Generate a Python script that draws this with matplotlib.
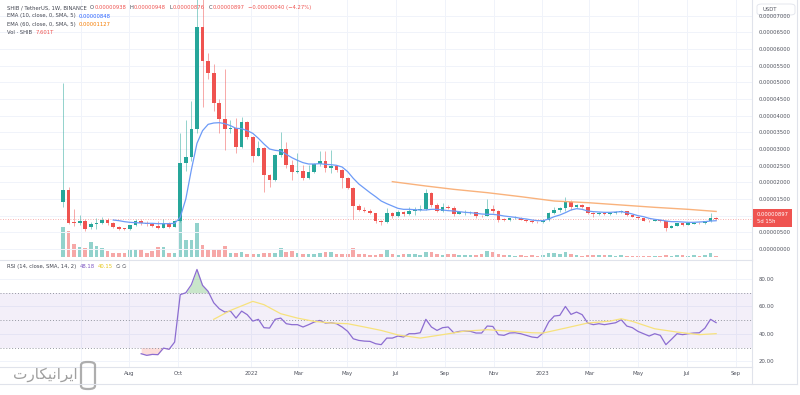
import numpy as np
import pandas as pd
import matplotlib
matplotlib.use("Agg")
import matplotlib.pyplot as plt
import matplotlib.dates as mdates
from matplotlib.lines import Line2D
from matplotlib.patches import FancyBboxPatch

plt.rcParams['font.family'] = ['DejaVu Sans']

# SHIB / USDT weekly candles, prices in micro-USDT (1e-6)
first_week = '2021-05-10'
opens = [14.0, 17.7, 8.2, 7.8, 8.4, 6.5, 7.6, 7.9, 8.7, 7.8,
         6.6, 6.3, 5.9, 7.1, 8.5, 7.9, 7.4, 7.0, 6.4, 7.9,
         6.7, 8.5, 25.9, 27.5, 35.9, 66.7, 56.5, 52.9, 43.7, 38.9,
         35.9, 36.2, 30.5, 38.0, 33.7, 28.0, 30.2, 22.2, 20.7, 28.2,
         29.9, 25.2, 23.2, 23.4, 21.2, 23.0, 25.4, 26.5, 24.2, 25.0,
         23.7, 21.2, 18.2, 12.9, 11.7, 11.4, 10.9, 8.3, 8.0, 10.7,
         9.8, 11.2, 10.6, 11.4, 11.7, 11.9, 16.7, 13.2, 11.5, 12.5,
         12.4, 10.5, 11.0, 11.1, 11.2, 10.0, 9.8, 11.9, 11.4, 8.9,
         8.6, 9.2, 9.4, 8.8, 8.4, 8.1, 8.0, 8.7, 10.7, 11.7,
         12.2, 14.2, 12.5, 13.2, 12.5, 10.9, 10.5, 10.9, 10.5, 10.9,
         11.2, 11.4, 10.1, 9.7, 9.2, 8.5, 8.4, 8.7, 8.4, 6.4,
         7.0, 7.7, 7.3, 7.6, 7.9, 7.7, 8.3, 9.38]
highs = [49.7, 18.5, 11.9, 10.2, 9.0, 8.0, 9.2, 9.5, 9.2, 8.0,
         6.8, 6.4, 7.3, 9.0, 9.0, 8.3, 7.9, 8.3, 9.0, 8.2,
         8.7, 34.8, 38.7, 44.3, 88.8, 76.0, 58.7, 55.5, 44.9, 54.0,
         38.7, 39.4, 39.7, 38.5, 33.9, 32.5, 30.5, 22.5, 28.5, 35.0,
         32.2, 26.7, 28.7, 25.2, 25.2, 25.7, 29.5, 29.5, 29.7, 25.2,
         23.9, 21.7, 18.5, 13.5, 12.5, 11.9, 10.9, 8.6, 12.2, 11.2,
         11.7, 11.4, 12.7, 12.7, 13.2, 17.9, 17.2, 13.7, 13.7, 13.2,
         12.9, 11.3, 11.7, 11.5, 11.2, 10.2, 14.9, 13.2, 11.7, 9.3,
         9.4, 9.9, 9.7, 9.0, 8.6, 8.3, 8.9, 11.2, 12.7, 12.7,
         15.7, 14.7, 13.4, 13.4, 12.7, 11.0, 11.1, 11.1, 11.2, 11.4,
         11.7, 11.5, 10.3, 9.9, 9.3, 8.8, 8.9, 8.8, 8.5, 7.1,
         7.9, 7.9, 8.0, 8.1, 8.0, 8.5, 10.7, 9.48]
lows = [12.5, 7.5, 7.0, 7.2, 5.3, 6.0, 5.9, 7.5, 7.3, 6.2,
        5.8, 5.6, 5.8, 6.9, 7.1, 7.0, 6.6, 5.9, 6.3, 6.2,
        6.6, 8.0, 23.4, 26.5, 34.8, 42.7, 51.1, 41.3, 34.9, 29.7,
        34.7, 28.7, 30.2, 33.0, 26.2, 28.0, 17.2, 18.5, 20.5, 27.7,
        24.2, 20.7, 22.7, 20.7, 21.0, 22.8, 25.0, 23.2, 22.7, 23.2,
        18.2, 18.0, 9.0, 11.5, 11.2, 10.6, 7.8, 7.2, 7.9, 9.3,
        9.7, 9.8, 10.3, 10.3, 11.4, 11.7, 12.7, 11.2, 11.2, 11.9,
        10.0, 10.4, 10.2, 10.5, 9.2, 9.6, 9.8, 10.7, 8.2, 8.3,
        8.3, 8.9, 8.6, 8.1, 7.9, 7.7, 7.8, 8.5, 10.4, 11.2,
        11.5, 11.7, 12.2, 12.2, 10.5, 9.7, 10.3, 10.3, 10.3, 10.6,
        10.9, 9.9, 9.5, 9.0, 8.4, 8.2, 8.3, 8.2, 5.5, 6.2,
        6.9, 6.8, 7.2, 7.4, 7.5, 7.6, 8.2, 8.76]
closes = [17.7, 7.9, 7.8, 8.4, 6.0, 7.6, 7.9, 8.7, 7.8, 6.6,
          6.0, 5.9, 7.1, 8.5, 7.9, 7.4, 7.0, 6.4, 7.9, 6.7,
          8.5, 25.9, 27.5, 35.9, 66.7, 56.5, 52.9, 43.7, 38.9, 35.9,
          36.2, 30.5, 38.0, 33.7, 28.0, 30.2, 22.2, 20.7, 28.2, 29.9,
          25.2, 23.2, 23.4, 21.2, 23.0, 25.4, 26.5, 24.2, 25.0, 23.7,
          21.2, 18.2, 12.9, 11.7, 11.4, 10.9, 8.3, 8.0, 10.7, 9.8,
          11.2, 10.6, 11.4, 11.7, 11.9, 16.7, 13.2, 11.5, 12.5, 12.4,
          10.5, 11.0, 11.1, 11.2, 10.0, 9.8, 11.9, 11.4, 8.7, 8.6,
          9.2, 9.4, 8.8, 8.4, 8.1, 8.0, 8.7, 10.7, 11.7, 12.2,
          14.2, 12.5, 13.2, 12.5, 10.9, 10.5, 10.9, 10.5, 10.9, 11.2,
          11.4, 10.1, 9.7, 9.2, 8.5, 8.4, 8.7, 8.4, 6.2, 7.0,
          7.7, 7.3, 7.8, 7.9, 7.7, 8.4, 9.38, 8.97]
# volume in trillions of SHIB
volumes = [228, 195, 101, 76, 68, 112, 86, 68, 43, 30,
           30, 30, 51, 61, 61, 30, 43, 76, 76, 30,
           30, 271, 127, 127, 258, 91, 61, 61, 61, 86,
           28, 33, 36, 23, 21, 23, 33, 28, 33, 66,
           36, 48, 28, 21, 23, 25, 28, 38, 40, 21,
           23, 23, 71, 21, 23, 15, 17, 23, 51, 21,
           17, 21, 23, 23, 15, 38, 40, 21, 13, 21,
           21, 15, 13, 15, 13, 21, 46, 36, 21, 13,
           13, 10, 13, 8, 13, 8, 13, 33, 34, 23,
           36, 21, 17, 10, 15, 13, 15, 13, 13, 10,
           13, 10, 8, 8, 5, 8, 8, 8, 13, 10,
           15, 13, 10, 15, 10, 15, 33, 7.6]

ema10_start = 9
ema10 = [8.7, 8.5, 8.2, 8.0, 7.9, 7.8, 7.7, 7.7, 7.6, 7.6,
         7.6, 7.7, 9.5, 15.0, 23.8, 31.7, 35.5, 37.4, 37.8, 37.9,
         37.6, 37.0, 36.2, 36.1, 35.5, 34.7, 33.2, 31.5, 30.0, 29.6,
         29.4, 28.4, 27.4, 26.6, 25.9, 25.5, 25.5, 25.6, 25.4, 25.3,
         25.1, 24.6, 23.2, 21.2, 19.5, 18.2, 16.9, 15.7, 14.4, 13.6,
         12.9, 12.2, 11.9, 11.9, 11.8, 11.7, 11.7, 11.9, 11.9, 11.7,
         11.5, 11.4, 11.2, 11.0, 10.9, 10.7, 10.5, 10.4, 10.4, 10.2,
         9.9, 9.7, 9.5, 9.2, 9.0, 8.7, 8.5, 8.5, 9.0, 9.7,
         10.2, 10.9, 11.7, 12.1, 11.9, 11.4, 11.2, 11.1, 11.0, 11.0,
         11.1, 11.2, 10.9, 10.5, 10.0, 9.7, 9.2, 8.9, 8.7, 8.4,
         8.2, 8.2, 8.1, 8.0, 8.0, 8.1, 8.2, 8.4, 8.48]
ema60_weeks = [59, 65, 70, 76, 82, 88, 94, 100, 106, 112, 117]
ema60 = [20.2, 18.9, 17.9, 16.9, 15.7, 14.4, 13.9, 13.2, 12.5, 11.9, 11.27]

rsi_start = 14
rsi = [25.5, 24.3, 25.0, 24.8, 29.6, 28.7, 34.0, 68.6, 70.0, 75.9,
       87.0, 75.4, 71.0, 62.7, 58.3, 55.9, 56.6, 51.5, 56.6, 54.0,
       49.3, 50.6, 44.5, 44.2, 50.6, 51.5, 47.4, 46.7, 46.7, 45.0,
       46.7, 48.6, 49.8, 47.9, 48.1, 47.4, 45.0, 41.8, 36.4, 35.2,
       34.7, 34.5, 32.8, 32.1, 36.9, 36.9, 38.4, 37.7, 40.1, 40.1,
       40.8, 50.6, 45.0, 42.5, 44.5, 45.0, 40.8, 41.8, 42.0, 41.8,
       40.6, 40.6, 45.7, 45.4, 39.4, 38.9, 40.6, 40.8, 40.1, 38.9,
       37.7, 37.2, 40.6, 48.6, 53.0, 53.5, 60.0, 54.2, 55.9, 54.0,
       47.9, 46.7, 47.4, 46.7, 47.4, 48.1, 50.3, 45.7, 44.5, 41.8,
       40.1, 38.4, 40.1, 38.9, 32.1, 36.0, 40.1, 39.4, 40.1, 40.6,
       40.8, 44.2, 50.6, 48.18]
rsi_sma_weeks = [27, 30, 34, 36, 39, 42, 45, 48, 51, 54, 57, 60, 64, 68,
                 72, 76, 80, 84, 86, 90, 94, 98, 100, 102, 106, 110, 114, 117]
rsi_sma = [50.6, 57.1, 63.7, 61.3, 54.7, 51.5, 49.1, 47.9, 47.4, 45.0, 42.5,
           39.2, 36.9, 39.4, 42.0, 43.0, 42.0, 40.8, 40.6, 44.2, 47.9, 49.3,
           51.0, 49.1, 43.7, 41.3, 39.4, 40.15]

month_ticks = ['2021-06-01', '2021-08-01', '2021-10-01', '2022-01-01', '2022-03-01',
               '2022-05-01', '2022-07-01', '2022-09-01', '2022-11-01', '2023-01-01',
               '2023-03-01', '2023-05-01', '2023-07-01', '2023-09-01']
# "Jun" sits under the watermark in the original, left blank here
month_labels = ['', 'Aug', 'Oct', '2022', 'Mar', 'May', 'Jul', 'Sep', 'Nov',
                '2023', 'Mar', 'May', 'Jul', 'Sep']
price_ticks = list(range(0, 75, 5))
rsi_ticks = [20, 40, 60, 80]

UP, DOWN = '#26a69a', '#ef5350'
GRID = '#f0f3fa'
BORDER = '#e0e3eb'
TXT = '#50535e'
W, H = 800, 395

weeks = pd.date_range(first_week, periods=len(closes), freq='7D')
x = mdates.date2num(weeks.to_pydatetime())
o, h, l, c = map(np.array, (opens, highs, lows, closes))
up = c >= o
colors = np.where(up, UP, DOWN)
x_ticks = mdates.date2num(pd.to_datetime(month_ticks).to_pydatetime())
xlim = (x[0] - 79, x[0] + 864)

fig = plt.figure(figsize=(8, 3.95), dpi=100)
fig.patch.set_facecolor('white')

# main pane: 0..260 px, volume underneath
rect_main = [0.0, 1 - 260 / H, 752 / W, 260 / H]
axv = fig.add_axes(rect_main, zorder=0)
ax = fig.add_axes(rect_main, zorder=1, sharex=axv)
ax.patch.set_visible(False)

axv.bar(x, volumes, width=4.6, color=colors, alpha=0.5, linewidth=0)
axv.set_ylim(-22.8, 1953)
axv.set_yticks([])
axv.set_xticks(x_ticks)
axv.grid(axis='x', color=GRID, lw=0.7)
axv.tick_params(length=0, labelbottom=False)
for s in axv.spines.values():
    s.set_visible(False)

for p in price_ticks:
    ax.axhline(p, color=GRID, lw=0.7, zorder=0)

# candles
ax.vlines(x, l, h, colors=colors, lw=0.7, alpha=0.5, zorder=2)
body_h = np.maximum(np.abs(c - o), 0.12)
ax.bar(x, body_h, bottom=np.minimum(o, c), width=4.6, color=colors, linewidth=0, zorder=3)

# moving averages
ax.plot(x[ema10_start:ema10_start + len(ema10)], ema10, color='#6d9bf7', lw=0.9, zorder=4)
ax.plot(x[ema60_weeks], ema60, color='#f9b27c', lw=1.0, zorder=4)

ax.axhline(closes[-1], color=DOWN, lw=0.6, ls=(0, (1, 2)), alpha=0.6, zorder=1)

ax.set_xlim(xlim)
ax.set_ylim(-3.3, 74.7)
ax.yaxis.tick_right()
ax.set_yticks(price_ticks)
# the 0.00001000 label is covered by the last-price tag in the original
ax.set_yticklabels(['' if p == 10 else '%.8f' % (p * 1e-6) for p in price_ticks])
ax.tick_params(axis='y', length=0, pad=5, labelsize=3.8, labelcolor=TXT)
ax.tick_params(axis='x', length=0, labelbottom=False)
for k, s in ax.spines.items():
    s.set_visible(k in ('right', 'bottom'))
    s.set_color(BORDER)
    s.set_linewidth(0.8)

ax.text(1.006, closes[-1] + 0.3, '0.00000897\n5d 15h', transform=ax.get_yaxis_transform(),
        ha='left', va='center', fontsize=3.8, color='white', linespacing=1.35, zorder=10,
        clip_on=False, bbox=dict(boxstyle='square,pad=0.6', fc=DOWN, ec='none'))

# RSI pane: 260..367 px
ax_r = fig.add_axes([0.0, 1 - 367 / H, 752 / W, 107 / H], sharex=ax)
xr = x[rsi_start:rsi_start + len(rsi)]
rv = np.array(rsi)
ax_r.axhspan(30, 70, color='#7e57c2', alpha=0.09, lw=0)
for lvl in (30, 50, 70):
    ax_r.axhline(lvl, color='#9598a1', lw=0.7, ls=(0, (1, 2)))
for t in rsi_ticks:
    ax_r.axhline(t, color=GRID, lw=0.7, zorder=0)
ax_r.fill_between(xr, rv, 70, where=rv > 70, interpolate=True, color='#4caf50', alpha=0.3, lw=0)
ax_r.fill_between(xr, rv, 30, where=rv < 30, interpolate=True, color='#f44336', alpha=0.18, lw=0)
ax_r.plot(xr, rv, color='#8c6dd1', lw=0.9)
ax_r.plot(x[rsi_sma_weeks], rsi_sma, color='#f7e27d', lw=0.9)
ax_r.set_ylim(15.8, 93.9)
ax_r.yaxis.tick_right()
ax_r.set_yticks(rsi_ticks)
ax_r.set_yticklabels(['%.2f' % t for t in rsi_ticks])
ax_r.set_xticks(x_ticks)
ax_r.set_xticklabels(month_labels)
ax_r.grid(axis='x', color=GRID, lw=0.7)
ax_r.set_axisbelow(True)
ax_r.tick_params(length=0, labelsize=3.9, labelcolor=TXT, pad=5)
ax_r.tick_params(axis='x', pad=3)
for k, s in ax_r.spines.items():
    s.set_visible(k in ('right', 'bottom'))
    s.set_color(BORDER)
    s.set_linewidth(0.8)
ax_r.set_xlim(xlim)

# frame lines of time axis and outer border
fig.add_artist(Line2D([0, 797 / W], [1 - 384 / H] * 2, color=BORDER, lw=0.8))
fig.add_artist(Line2D([752 / W] * 2, [1 - 384 / H, 1 - 367 / H], color=BORDER, lw=0.8))
fig.add_artist(Line2D([797 / W] * 2, [1 - 384 / H, 1.0], color=BORDER, lw=0.8))

# currency box
fig.add_artist(FancyBboxPatch((757 / W, 1 - 15 / H), 38 / W, 11 / H,
                              boxstyle='round,pad=0,rounding_size=0.006',
                              fc='white', ec=BORDER, lw=0.6, transform=fig.transFigure))
fig.text(770 / W, 1 - 9.5 / H, 'USDT', fontsize=3.8, color=TXT, ha='center', va='center')

renderer = fig.canvas.get_renderer()


def text_row(x0, y0, parts, size=3.8):
    # parts: (text, colour, gap in px after it)
    for s, col, gap in parts:
        t = fig.text(x0 / W, 1 - y0 / H, s, color=col, fontsize=size, ha='left', va='center')
        x0 += t.get_window_extent(renderer=renderer).width + gap


GREY = '#434651'
text_row(7, 7.5, [('SHIB / TetherUS, 1W, BINANCE', GREY, 3.5), ('O', GREY, 0.3), ('0.00000938', DOWN, 3.5),
                  ('H', GREY, 0.3), ('0.00000948', DOWN, 3.5), ('L', GREY, 0.3), ('0.00000876', DOWN, 3.5),
                  ('C', GREY, 0.3), ('0.00000897', DOWN, 3.5), ('\u22120.00000040 (\u22124.27%)', DOWN, 0)])
text_row(7, 16, [('EMA (10, close, 0, SMA, 5)', GREY, 3), ('0.00000848', '#2962ff', 0)])
text_row(7, 24.5, [('EMA (60, close, 0, SMA, 5)', GREY, 3), ('0.00001127', '#f57c00', 0)])
text_row(7, 33, [('Vol \u00b7 SHIB', GREY, 3), ('7.601T', DOWN, 0)])
text_row(7, 266.5, [('RSI (14, close, SMA, 14, 2)', GREY, 3), ('48.18', '#7e57c2', 3),
                    ('40.15', '#e6c619', 3), ('\u2205', GREY, 2), ('\u2205', GREY, 0)])

# watermark
fig.text(45 / W, 1 - 375 / H, '\uFE95\uFEAD\uFE8E\uFB91\uFBFF\uFEE7\uFE8D\uFEAE\uFBFE\uFE8D',
         fontsize=11, color='#8f8f8f', ha='center', va='center', alpha=0.85)
fig.add_artist(FancyBboxPatch((81 / W, 1 - 389 / H), 14 / W, 27 / H,
                              boxstyle='round,pad=0,rounding_size=0.008',
                              fc='none', ec='#9a9a9a', lw=1.6, alpha=0.8, transform=fig.transFigure))

fig.savefig('out.png', dpi=100, facecolor='white')
